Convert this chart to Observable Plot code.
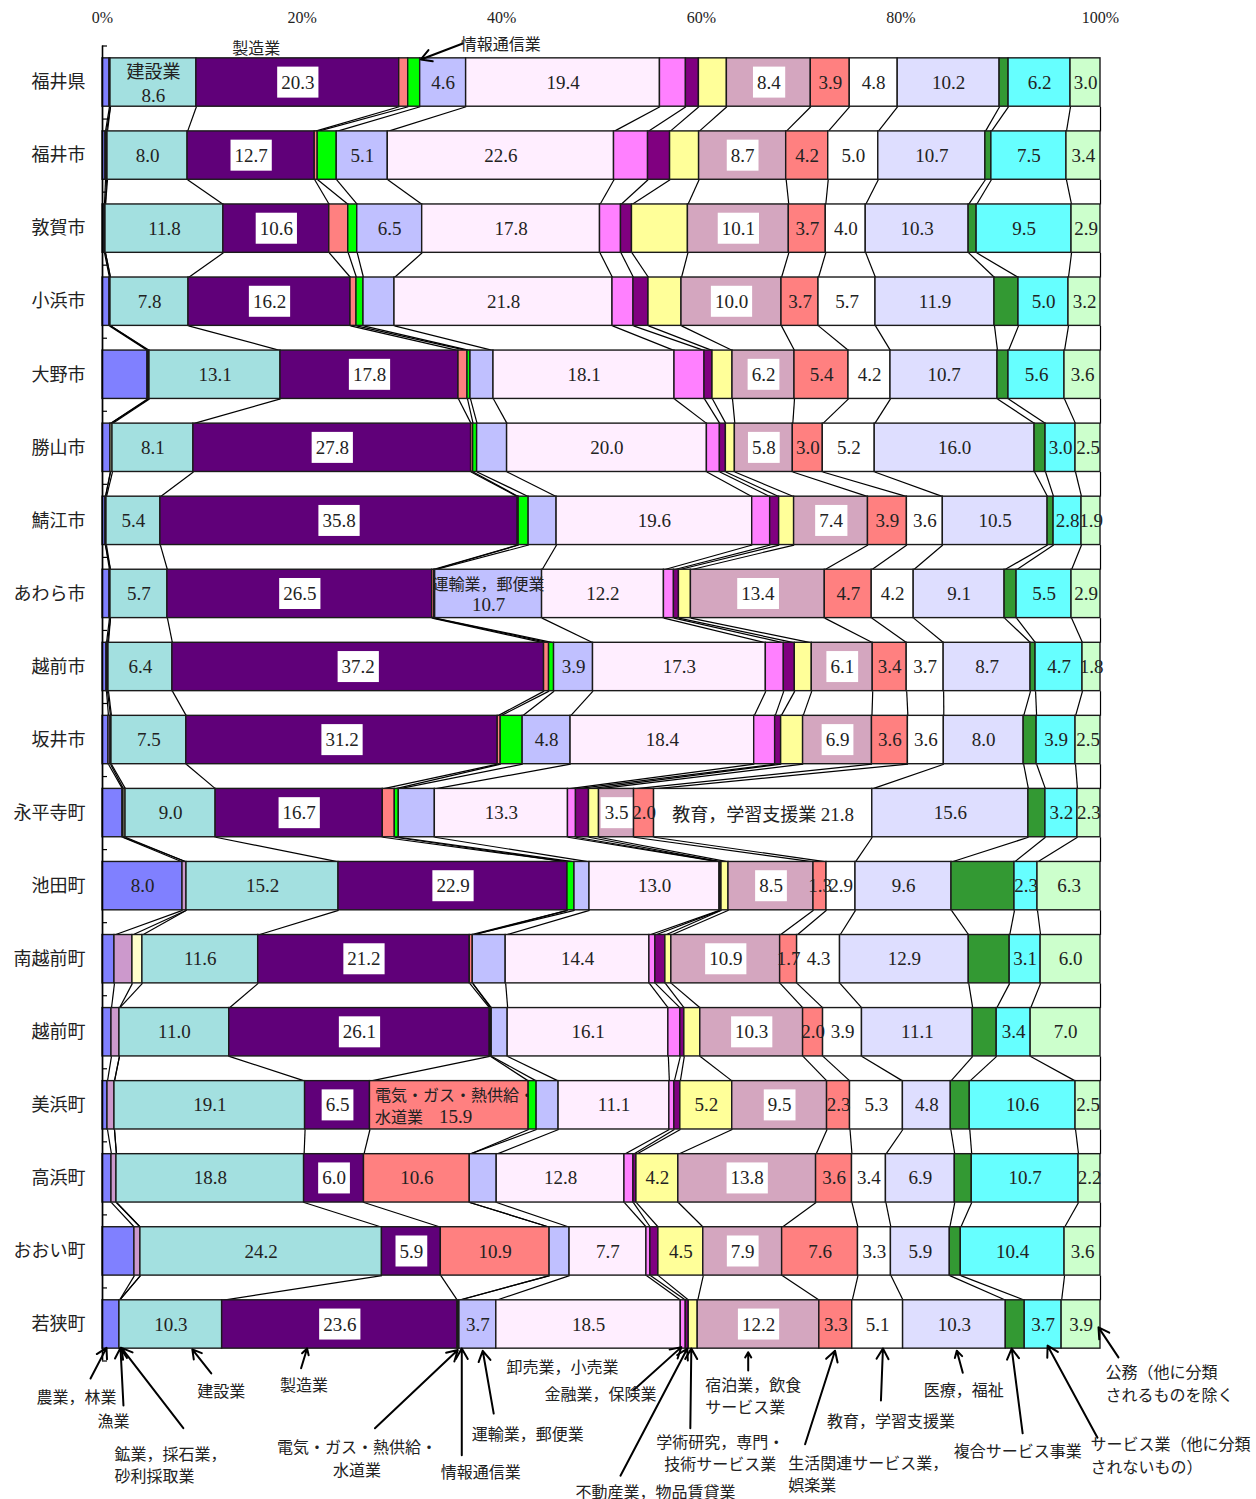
<!DOCTYPE html>
<html><head><meta charset="utf-8">
<script src="https://cdn.jsdelivr.net/npm/d3@7"></script>
<script src="https://cdn.jsdelivr.net/npm/@observablehq/plot@0.6"></script>
<style>body{margin:0;background:#fff;}</style>
</head><body>
<script>
// ---- data ----
const regions = ["福井県","福井市","敦賀市","小浜市","大野市","勝山市","鯖江市","あわら市","越前市","坂井市","永平寺町","池田町","南越前町","越前町","美浜町","高浜町","おおい町","若狭町"];
const categories = ["農業，林業","漁業","鉱業，採石業，砂利採取業","建設業","製造業","電気・ガス・熱供給・水道業","情報通信業","運輸業，郵便業","卸売業，小売業","金融業，保険業","不動産業，物品賃貸業","学術研究，専門・技術サービス業","宿泊業，飲食サービス業","生活関連サービス業，娯楽業","教育，学習支援業","医療，福祉","複合サービス事業","サービス業（他に分類されないもの）","公務（他に分類されるものを除く）"];
const colors = ["#8080FF","#CC99CC","#FFFFCC","#A3E0E0","#600079","#FF8080","#00FF00","#C0C0FF","#FFEEFF","#FF80FF","#800080","#FFFF99","#D4A6BF","#FF8080","#FFFFFF","#DEDEFF","#339933","#66FFFF","#CCFFCC"];

const fukuiKen   = [0.7,0.1,0.0, 8.6,20.3, 0.9,1.2, 4.6,19.4,2.6,1.3,2.8, 8.4,3.9, 4.8,10.2,0.9, 6.2,3.0];
const fukuiShi   = [0.3,0.1,0.1, 8.0,12.7, 0.3,1.9, 5.1,22.6,3.4,2.2,2.9, 8.7,4.2, 5.0,10.7,0.6, 7.5,3.4];
const tsuruga    = [0.2,0.1,0.0,11.8,10.6, 1.9,0.9, 6.5,17.8,2.1,1.1,5.6,10.1,3.7, 4.0,10.3,0.8, 9.5,2.9];
const obama      = [0.7,0.1,0.0, 7.8,16.2, 0.6,0.7, 3.1,21.8,2.1,1.5,3.3,10.0,3.7, 5.7,11.9,2.4, 5.0,3.2];
const ono        = [4.5,0.1,0.1,13.1,17.8, 0.9,0.3, 2.3,18.1,3.0,0.8,2.0, 6.2,5.4, 4.2,10.7,1.1, 5.6,3.6];
const katsuyama  = [0.8,0.0,0.2, 8.1,27.8, 0.2,0.4, 3.0,20.0,1.3,0.6,0.9, 5.8,3.0, 5.2,16.0,1.1, 3.0,2.5];
const sabae      = [0.3,0.0,0.1, 5.4,35.8, 0.1,1.0, 2.8,19.6,1.8,0.9,1.5, 7.4,3.9, 3.6,10.5,0.6, 2.8,1.9];
const awara      = [0.7,0.1,0.0, 5.7,26.5, 0.2,0.1,10.7,12.2,1.0,0.5,1.2,13.4,4.7, 4.2, 9.1,1.2, 5.5,2.9];
const echizenShi = [0.4,0.1,0.1, 6.4,37.2, 0.5,0.5, 3.9,17.3,1.8,1.1,1.7, 6.1,3.4, 3.7, 8.7,0.5, 4.7,1.8];
const sakai      = [0.6,0.2,0.1, 7.5,31.2, 0.3,2.2, 4.8,18.4,2.1,0.6,2.2, 6.9,3.6, 3.6, 8.0,1.3, 3.9,2.5];
const eiheiji    = [2.0,0.1,0.2, 9.0,16.7, 1.2,0.4, 3.6,13.3,0.8,1.3,1.0, 3.5,2.0,21.8,15.6,1.7, 3.2,2.3];
const ikeda      = [8.0,0.4,0.0,15.2,22.9, 0.0,0.7, 1.5,13.0,0.1,0.1,0.7, 8.5,1.3, 2.9, 9.6,6.3, 2.3,6.3];
const minamiEchizen = [1.2,1.8,1.0,11.6,21.2,0.3,0.0,3.3,14.4,0.6,1.0,0.6,10.9,1.7,4.3,12.9,4.1,3.1,6.0];
const echizenCho = [0.9,0.8,0.0,11.0,26.1, 0.1,0.1, 1.6,16.1,1.2,0.4,1.6,10.3,2.0, 3.9,11.1,2.4, 3.4,7.0];
const mihama     = [0.5,0.7,0.0,19.1, 6.5,15.9,0.8, 2.2,11.1,0.5,0.6,5.2, 9.5,2.3, 5.3, 4.8,1.9,10.6,2.5];
const takahama   = [0.9,0.5,0.0,18.8, 6.0,10.6,0.0, 2.7,12.8,0.9,0.3,4.2,13.8,3.6, 3.4, 6.9,1.7,10.7,2.2];
const ohi        = [3.2,0.6,0.0,24.2, 5.9,10.9,0.0, 2.0, 7.7,0.4,0.8,4.5, 7.9,7.6, 3.3, 5.9,1.1,10.4,3.6];
const wakasa     = [1.7,0.0,0.0,10.3,23.6, 0.1,0.1, 3.7,18.5,0.5,0.3,0.9,12.2,3.3, 5.1,10.3,1.9, 3.7,3.9];

// categories whose values are written in every bar
const labeledCategories = ["建設業","製造業","卸売業，小売業","宿泊業，飲食サービス業","生活関連サービス業，娯楽業","教育，学習支援業","医療，福祉","サービス業（他に分類されないもの）","公務（他に分類されるものを除く）"];
const boxedCategories = ["製造業","宿泊業，飲食サービス業"];
// other segments whose values are written
const extraLabels = [
  ["福井県","運輸業，郵便業"],["福井市","運輸業，郵便業"],["敦賀市","運輸業，郵便業"],["あわら市","運輸業，郵便業"],
  ["越前市","運輸業，郵便業"],["坂井市","運輸業，郵便業"],["若狭町","運輸業，郵便業"],["池田町","農業，林業"],
  ["美浜町","電気・ガス・熱供給・水道業"],["高浜町","電気・ガス・熱供給・水道業"],["おおい町","電気・ガス・熱供給・水道業"],
  ["美浜町","学術研究，専門・技術サービス業"],["高浜町","学術研究，専門・技術サービス業"],["おおい町","学術研究，専門・技術サービス業"]
];
// labels with special wording
const customLabels = [
  ["福井県","建設業","建設業\n8.6"],
  ["あわら市","運輸業，郵便業","運輸業，郵便業\n10.7"],
  ["永平寺町","教育，学習支援業","教育，学習支援業 21.8"],
  ["美浜町","電気・ガス・熱供給・水道業","電気・ガス・熱供給・\n水道業　15.9"]
];
const xTicks = [0,20,40,60,80,100];

// ---- callout layout (annotation positions, in chart units) ----
const calloutTexts = [
  {t:"農業，林業", x:-2.6, y:17.97, a:"middle"},
  {t:"漁業", x:1.1, y:18.31, a:"middle"},
  {t:"鉱業，採石業，\n砂利採取業", x:1.2, y:18.91, a:"start"},
  {t:"建設業", x:11.9, y:17.9, a:"middle"},
  {t:"製造業", x:20.2, y:17.81, a:"middle"},
  {t:"電気・ガス・熱供給・\n水道業", x:25.5, y:18.82, a:"middle"},
  {t:"情報通信業", x:37.9, y:19.01, a:"middle"},
  {t:"運輸業，郵便業", x:42.6, y:18.49, a:"middle"},
  {t:"卸売業，小売業", x:46.1, y:17.56, a:"middle"},
  {t:"金融業，保険業", x:49.9, y:17.93, a:"middle"},
  {t:"不動産業，物品賃貸業", x:55.4, y:19.28, a:"middle"},
  {t:"学術研究，専門・\n技術サービス業", x:61.9, y:18.74, a:"middle"},
  {t:"宿泊業，飲食\nサービス業", x:60.4, y:17.96, a:"start"},
  {t:"生活関連サービス業，\n娯楽業", x:68.7, y:19.03, a:"start"},
  {t:"教育，学習支援業", x:79.0, y:18.31, a:"middle"},
  {t:"医療，福祉", x:86.3, y:17.88, a:"middle"},
  {t:"複合サービス事業", x:91.7, y:18.72, a:"middle"},
  {t:"サービス業（他に分類\nされないもの）", x:99.0, y:18.78, a:"start"},
  {t:"公務（他に分類\nされるものを除く", x:100.5, y:17.79, a:"start"},
  {t:"製造業", x:15.4, y:-0.49, a:"middle"},
  {t:"情報通信業", x:35.9, y:-0.55, a:"start"}
];
const calloutArrows = [
  [-1.2,17.74,0.4,17.32],[2.1,18.11,1.8,17.32],[8.1,18.42,1.9,17.32],[10.9,17.67,9.0,17.34],
  [19.9,17.6,20.5,17.33],[27.3,18.42,35.6,17.35],[36.0,18.79,36.0,17.33],[39.2,18.22,38.1,17.36],
  [53.2,17.9,58.0,17.31],[51.9,19.07,58.6,17.33],[58.9,18.42,59.0,17.33],[64.7,17.63,64.7,17.38],
  [70.4,18.64,73.4,17.36],[78.0,18.04,78.2,17.33],[86.2,17.66,85.6,17.36],[92.2,18.49,91.1,17.33],
  [99.7,18.55,94.7,17.29],[101.8,17.45,99.8,17.04],[36.1,-0.534,31.9,-0.316]
];

// ---- build ----
const regionValues = [fukuiKen,fukuiShi,tsuruga,obama,ono,katsuyama,sabae,awara,echizenShi,sakai,eiheiji,ikeda,minamiEchizen,echizenCho,mihama,takahama,ohi,wakasa];
const half = 0.331;
const segments = [], bounds = [];
regionValues.forEach((vals, i) => {
  const total = d3.sum(vals);
  let acc = 0; const b = [0];
  vals.forEach((v, k) => {
    const x1 = acc / total * 100; acc += v; const x2 = acc / total * 100;
    b.push(x2);
    segments.push({region: regions[i], row: i, cat: categories[k], value: v, x1, x2});
  });
  bounds.push(b);
});
const links = [];
for (let i = 0; i < regions.length - 1; i++)
  for (let k = 0; k <= categories.length; k++)
    links.push({x1: bounds[i][k], x2: bounds[i+1][k], y1: i + half, y2: i + 1 - half});

const labels = segments.filter(d => labeledCategories.includes(d.cat) || extraLabels.some(([r,c]) => r === d.region && c === d.cat))
  .map(d => {
    const c = customLabels.find(([r,k]) => r === d.region && k === d.cat);
    return {...d, text: c ? c[2] : d.value.toFixed(1), custom: !!c};
  });
const isStart = d => d.custom && d.cat === "電気・ガス・熱供給・水道業";
const boxed = labels.filter(d => boxedCategories.includes(d.cat) && !d.custom);
const plain = labels.filter(d => !d.custom && !boxed.includes(d));
const customMid = labels.filter(d => d.custom && !isStart(d));
const customStart = labels.filter(isStart);
const mid = d => (d.x1 + d.x2) / 2;

const FONT = "'Liberation Serif','Noto Sans CJK JP',serif";
const svg = Plot.plot({
  width: 1256, height: 1499,
  marginLeft: 102, marginRight: 156, marginTop: 45.5, marginBottom: 138.5,
  style: {fontFamily: FONT, fontSize: "16px", background: "#fff", color: "#222", overflow: "visible"},
  x: {domain: [0, 100], axis: "top", ticks: xTicks, tickFormat: d => d + "%", tickSize: 0, tickPadding: 23, label: null},
  y: {domain: [-0.5, 17.5], reverse: true, axis: null},
  color: {domain: categories, range: colors},
  marks: [
    Plot.text(boxed, {x: mid, y: "row", text: "text", fontSize: 19, fill: "#222"}),
    Plot.link(links, {x1: "x1", y1: "y1", x2: "x2", y2: "y2", stroke: "#000", strokeWidth: 1.2}),
    Plot.rect(segments, {x1: "x1", x2: "x2", y1: d => d.row - half, y2: d => d.row + half, fill: "cat", stroke: "#1a1a1a", strokeWidth: 1.4}),
    Plot.ruleX([0], {y1: -0.5, y2: 17.5, stroke: "#000", strokeWidth: 1.6}),
    Plot.ruleY(d3.range(-0.5, 18, 1), {x1: 0, x2: 0.5, stroke: "#000", strokeWidth: 1.2}),
    Plot.text(regions, {x: 0, y: (d, i) => i, text: d => d, textAnchor: "end", dx: -17, fontSize: 18, fill: "#222"}),
    Plot.text(plain, {x: mid, y: "row", text: "text", fontSize: 19, fill: "#222"}),
    Plot.text(customMid, {x: mid, y: "row", text: "text", fontSize: d => d.cat === "運輸業，郵便業" ? 16 : 18, lineHeight: 1.3, fill: "#222"}),
    Plot.text(customStart, {x: "x1", y: "row", text: "text", textAnchor: "start", dx: 5, fontSize: 16, lineHeight: 1.35, fill: "#222"}),
    Plot.arrow(calloutArrows, {x1: d => d[0], y1: d => d[1], x2: d => d[2], y2: d => d[3], stroke: "#000", strokeWidth: 2, headLength: 9}),
    Plot.text(calloutTexts.filter(d => d.a === "middle"), {x: "x", y: "y", text: "t", fontSize: 16, lineHeight: 1.4, fill: "#222"}),
    Plot.text(calloutTexts.filter(d => d.a === "start"), {x: "x", y: "y", text: "t", textAnchor: "start", fontSize: 16, lineHeight: 1.4, fill: "#222"})
  ]
});
document.body.append(svg);

const NS = "http://www.w3.org/2000/svg";
const textGroups = [...svg.querySelectorAll('g[aria-label="text"]')];

// numbers inside the worded labels are written at the same size as the other values
[textGroups[3], textGroups[4]].forEach(g => {
  if (!g) return;
  g.querySelectorAll("text").forEach(t => {
    const spans = t.querySelectorAll("tspan");
    const targets = spans.length ? [...spans] : [t];
    targets.forEach(el => {
      const s = el.textContent;
      el.textContent = "";
      s.split(/([0-9][0-9.]*)/).forEach(part => {
        if (!part) return;
        if (/^[0-9]/.test(part)) {
          const sp = document.createElementNS(NS, "tspan");
          sp.setAttribute("font-size", "19");
          sp.textContent = part;
          el.appendChild(sp);
        } else el.appendChild(document.createTextNode(part));
      });
    });
  });
});

// white boxes behind the boxed value labels, then move that layer on top of the bars
const boxedGroup = textGroups[0];
if (boxedGroup) {
  boxedGroup.querySelectorAll("text").forEach(t => {
    const b = t.getBBox();
    const r = document.createElementNS(NS, "rect");
    r.setAttribute("x", b.x - 4); r.setAttribute("y", b.y - 5);
    r.setAttribute("width", b.width + 8); r.setAttribute("height", b.height + 10);
    r.setAttribute("fill", "#fff"); r.setAttribute("stroke", "none");
    const tr = t.getAttribute("transform"); if (tr) r.setAttribute("transform", tr);
    t.parentNode.insertBefore(r, t);
  });
  svg.appendChild(boxedGroup);
}
</script>
</body></html>
